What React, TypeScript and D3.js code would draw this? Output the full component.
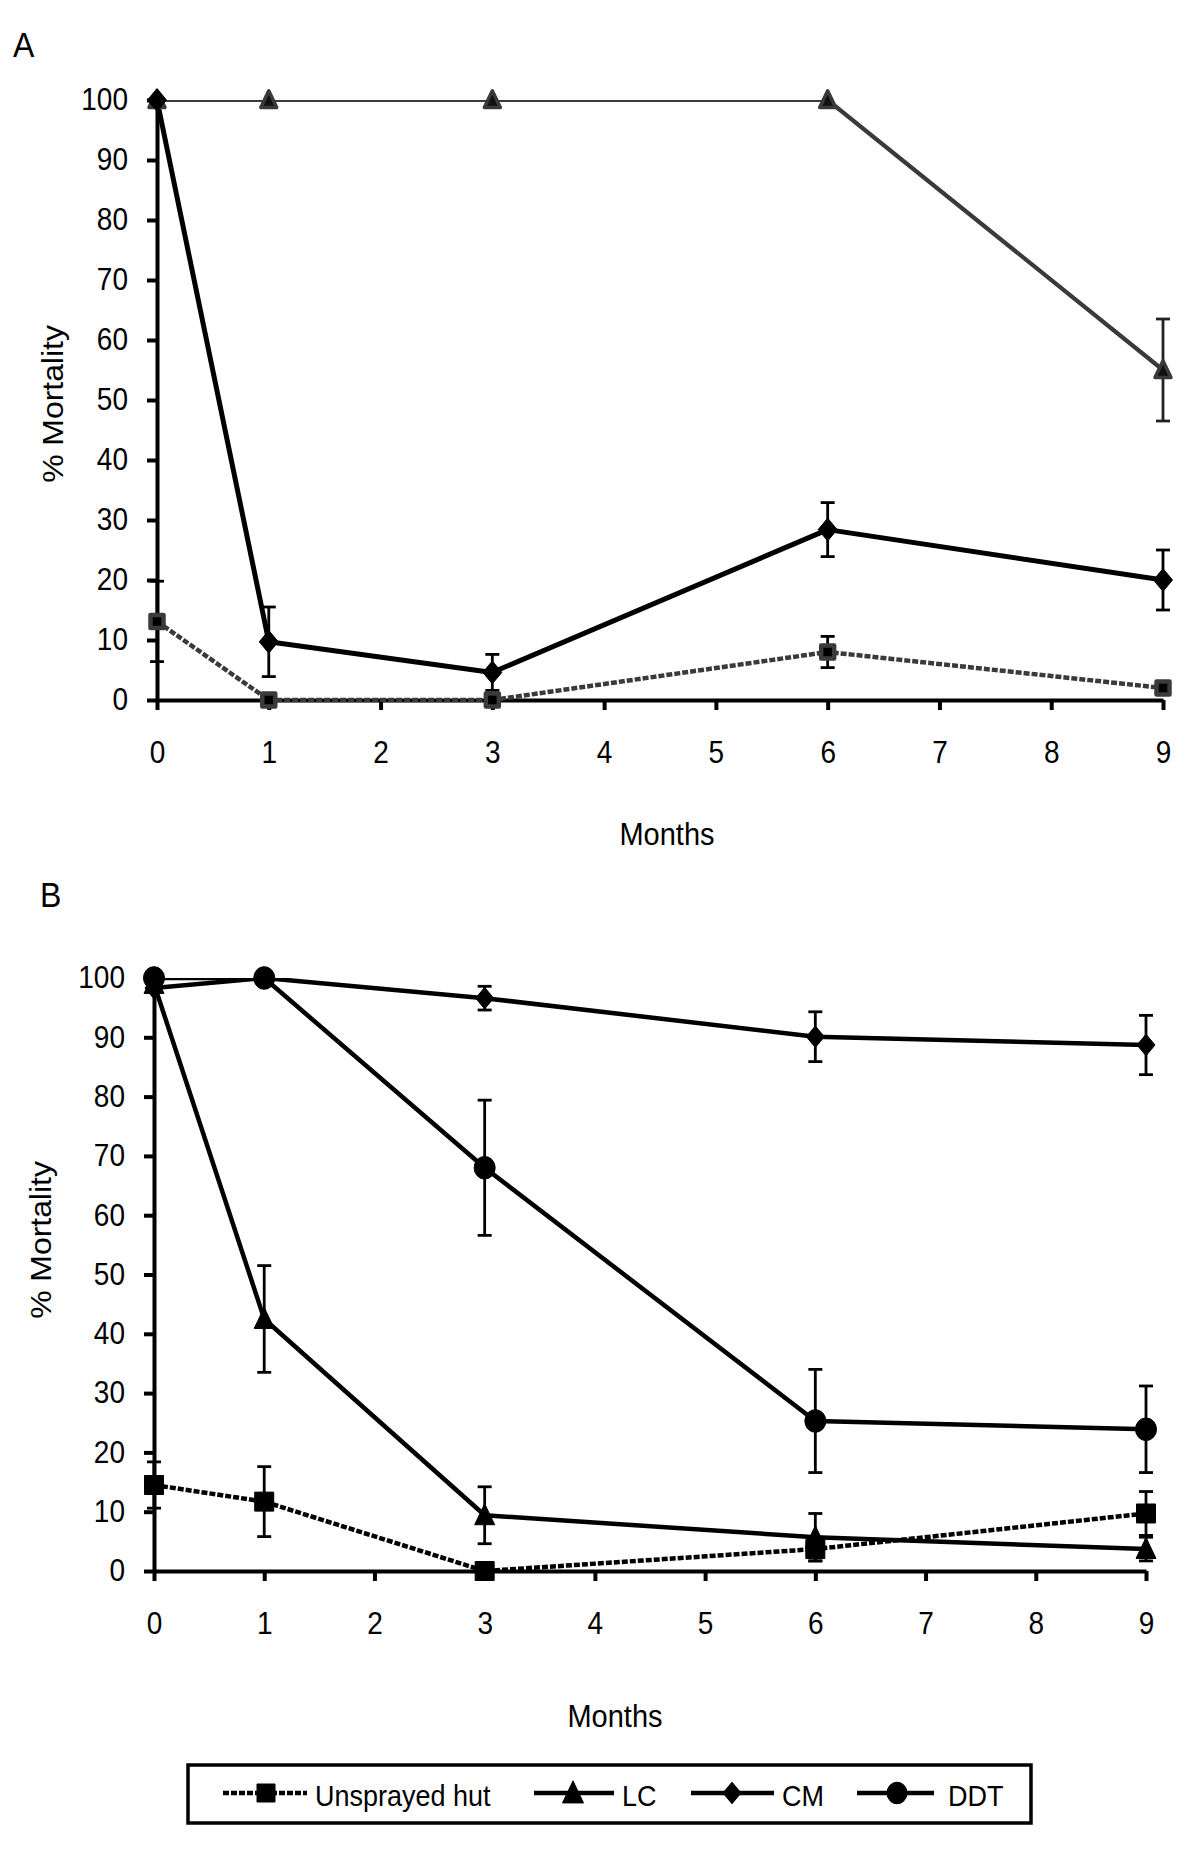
import * as d3 from "d3";
import { useEffect, useRef } from "react";

const months = [0, 1, 3, 6, 9];
const xTickValues = [0, 1, 2, 3, 4, 5, 6, 7, 8, 9];
const yTickValues = [0, 10, 20, 30, 40, 50, 60, 70, 80, 90, 100];
const seriesNames = ["Unsprayed hut", "LC", "CM", "DDT"];

// panel A
const aUnsprayed = [13.1, 0, 0, 8, 2];
const aUnsprayedErr = [6.7, 0, 0, 2.6, 0];
const aLC = [100, 100, 100, 100, 55];
const aLCErr = [0, 0, 0, 0, 8.5];
const aCM = [100, 9.7, 4.6, 28.4, 20];
const aCMErr = [0, 5.8, 3, 4.5, 5];

// panel B
const bUnsprayed = [14.5, 11.7, 0, 3.7, 9.7];
const bUnsprayedErr = [3.9, 5.9, 0, 2, 3.7];
const bLC = [99, 42.5, 9.4, 5.7, 3.7];
const bLCErr = [0, 9, 4.8, 4, 2];
const bCM = [98.3, 100, 96.6, 90.1, 88.7];
const bCMErr = [0, 0, 2, 4.2, 5];
const bDDT = [100, 100, 68, 25.3, 23.9];
const bDDTErr = [0, 0, 11.4, 8.7, 7.3];

const FONT = "'Liberation Sans', Arial, Helvetica, sans-serif";
const GRAY = "#3a3a3a";
const STRETCH = 1.1; // the figure's text is a bit taller than it is wide

function markerPath(shape, size) {
   if (shape === "square") {
      return `M${-size / 2},${-size / 2}h${size}v${size}h${-size}Z`;
   }
   if (shape === "diamond") {
      const w = size / 2;
      const h = size * 0.6;
      return `M0,${-h}L${w},0L0,${h}L${-w},0Z`;
   }
   if (shape === "triangle") {
      const w = size / 2;
      const h = size * 1.05;
      return `M0,${-h * 0.55}L${w},${h * 0.45}L${-w},${h * 0.45}Z`;
   }
   const r = size / 2;
   return `M${-r},0A${r},${r * 1.08} 0 1,0 ${r},0A${r},${r * 1.08} 0 1,0 ${-r},0Z`;
}

function drawMarker(g, x, y, s) {
   g.append("path")
      .attr("d", markerPath(s.shape, s.size))
      .attr("transform", `translate(${x},${y})`)
      .attr("fill", s.fill)
      .attr("stroke", s.markerStroke)
      .attr("stroke-width", s.markerStrokeWidth)
      .attr("stroke-linejoin", "round");
}

function addText(g, x, y, txt, size, anchor = "start") {
   g.append("text")
      .attr("transform", `translate(${x},${y}) scale(1,${STRETCH})`)
      .attr("text-anchor", anchor)
      .attr("font-size", size)
      .attr("font-family", FONT)
      .attr("fill", "#000")
      .text(txt);
}

function drawPanel(svg, cfg, id) {
   const xScale = d3.scaleLinear().domain([0, 9]).range([cfg.x0, cfg.x1]);
   const yScale = d3.scaleLinear().domain([0, 100]).range([cfg.yBottom, cfg.yTop]);

   addText(svg, cfg.letterX, cfg.letterY, cfg.letter, 32);

   // axes
   const yAxis = d3
      .axisLeft(yScale)
      .tickValues(yTickValues)
      .tickSize(10)
      .tickSizeOuter(0)
      .tickPadding(19);
   const xAxis = d3
      .axisBottom(xScale)
      .tickValues(xTickValues)
      .tickSize(10)
      .tickSizeOuter(0)
      .tickPadding(27);

   const yAxisG = svg.append("g").attr("transform", `translate(${cfg.x0},0)`).call(yAxis);
   const xAxisG = svg.append("g").attr("transform", `translate(0,${cfg.yBottom})`).call(xAxis);
   [yAxisG, xAxisG].forEach((ax) => {
      ax.attr("font-family", FONT).attr("font-size", 28);
      ax.selectAll(".domain").attr("stroke", "#000").attr("stroke-width", 4);
      ax.selectAll(".tick line").attr("stroke", "#000").attr("stroke-width", 4);
      ax.selectAll(".tick text").attr("fill", "#000").attr("transform", `scale(1,${STRETCH})`);
   });

   // axis titles
   addText(svg, cfg.monthsX, cfg.monthsY, "Months", 29, "middle");
   svg.append("text")
      .attr("transform", `translate(${cfg.yTitleX},${cfg.yTitleY}) rotate(-90) scale(${STRETCH},1)`)
      .attr("text-anchor", "middle")
      .attr("font-size", 29)
      .attr("font-family", FONT)
      .text("% Mortality");

   // clip lines to plot area
   svg.append("clipPath")
      .attr("id", id)
      .append("rect")
      .attr("x", cfg.x0)
      .attr("y", cfg.yTop)
      .attr("width", cfg.x1 - cfg.x0 + 10)
      .attr("height", cfg.yBottom - cfg.yTop + 10);

   const line = d3
      .line()
      .x((d) => xScale(d[0]))
      .y((d) => yScale(d[1]));

   const linesG = svg.append("g").attr("clip-path", `url(#${id})`);
   cfg.series.forEach((s) => {
      const pts = months.map((m, i) => [m, s.values[i]]);
      linesG
         .append("path")
         .attr("d", line(pts))
         .attr("fill", "none")
         .attr("stroke", s.color)
         .attr("stroke-width", s.width)
         .attr("stroke-dasharray", s.dash || null)
         .attr("stroke-linejoin", "round");
   });

   // error bars
   const errG = svg.append("g");
   cfg.series.forEach((s) => {
      months.forEach((m, i) => {
         const e = s.errors[i];
         if (!e) return;
         const x = xScale(m);
         const yt = yScale(s.values[i] + e);
         const yb = yScale(s.values[i] - e);
         errG.append("line")
            .attr("x1", x).attr("x2", x).attr("y1", yt).attr("y2", yb)
            .attr("stroke", s.errColor).attr("stroke-width", 2.8);
         [yt, yb].forEach((yy) => {
            errG.append("line")
               .attr("x1", x - 7).attr("x2", x + 7).attr("y1", yy).attr("y2", yy)
               .attr("stroke", s.errColor).attr("stroke-width", 2.8);
         });
      });
   });

   // markers
   const markG = svg.append("g");
   cfg.series.forEach((s) => {
      months.forEach((m, i) => {
         drawMarker(markG, xScale(m), yScale(s.values[i]), s);
      });
   });
}

function App() {
   const ref = useRef(null);

   useEffect(() => {
      const svg = d3.select(ref.current);
      svg.selectAll("*").remove();

      const panelA = {
         letter: "A",
         letterX: 13,
         letterY: 57,
         x0: 157,
         x1: 1163,
         yTop: 100,
         yBottom: 700,
         monthsX: 667,
         monthsY: 845,
         yTitleX: 63,
         yTitleY: 404,
         series: [
            { values: aUnsprayed, errors: aUnsprayedErr, color: GRAY, width: 4.5, dash: "6,2", errColor: "#000",
              shape: "square", size: 13, fill: "#000", markerStroke: GRAY, markerStrokeWidth: 4.5 },
            { values: aLC, errors: aLCErr, color: GRAY, width: 4.2, errColor: "#222",
              shape: "triangle", size: 16, fill: "#111", markerStroke: GRAY, markerStrokeWidth: 3.5 },
            { values: aCM, errors: aCMErr, color: "#000", width: 5, errColor: "#000",
              shape: "diamond", size: 19, fill: "#000", markerStroke: "#000", markerStrokeWidth: 1 },
         ],
      };

      const panelB = {
         letter: "B",
         letterX: 40,
         letterY: 907,
         x0: 154,
         x1: 1146,
         yTop: 978,
         yBottom: 1571,
         monthsX: 615,
         monthsY: 1727,
         yTitleX: 51,
         yTitleY: 1240,
         series: [
            { values: bUnsprayed, errors: bUnsprayedErr, color: "#000", width: 4.5, dash: "6,2", errColor: "#000",
              shape: "square", size: 19, fill: "#000", markerStroke: "#000", markerStrokeWidth: 1 },
            { values: bLC, errors: bLCErr, color: "#000", width: 4.5, errColor: "#000",
              shape: "triangle", size: 20, fill: "#000", markerStroke: "#000", markerStrokeWidth: 1 },
            { values: bCM, errors: bCMErr, color: "#000", width: 4.5, errColor: "#000",
              shape: "diamond", size: 18, fill: "#000", markerStroke: "#000", markerStrokeWidth: 1 },
            { values: bDDT, errors: bDDTErr, color: "#000", width: 4.5, errColor: "#000",
              shape: "circle", size: 21, fill: "#000", markerStroke: "#000", markerStrokeWidth: 1 },
         ],
      };

      drawPanel(svg, panelA, "clipA");
      drawPanel(svg, panelB, "clipB");

      // legend
      const legend = svg.append("g");
      legend.append("rect")
         .attr("x", 188)
         .attr("y", 1765)
         .attr("width", 843)
         .attr("height", 58)
         .attr("fill", "#fff")
         .attr("stroke", "#000")
         .attr("stroke-width", 3.5);

      const legendItems = [
         { x1: 223, x2: 307, mx: 266, dash: "6,2", shape: "square", size: 18 },
         { x1: 534, x2: 614, mx: 573, shape: "triangle", size: 21 },
         { x1: 691, x2: 774, mx: 732, shape: "diamond", size: 18 },
         { x1: 857, x2: 934, mx: 897, shape: "circle", size: 20 },
      ];
      const legendTextX = [315, 622, 782, 948];
      const ly = 1793;
      legendItems.forEach((it, i) => {
         legend.append("line")
            .attr("x1", it.x1).attr("x2", it.x2).attr("y1", ly).attr("y2", ly)
            .attr("stroke", "#000").attr("stroke-width", 4.5)
            .attr("stroke-dasharray", it.dash || null);
         drawMarker(legend, it.mx, ly, {
            shape: it.shape, size: it.size, fill: "#000", markerStroke: "#000", markerStrokeWidth: 1,
         });
         addText(legend, legendTextX[i], ly + 13, seriesNames[i], 27);
      });
   }, []);

   return (
      <div style={{ position: "absolute", left: 0, top: 0 }}>
         <svg ref={ref} width={1200} height={1866} style={{ display: "block", background: "#fff" }}></svg>
      </div>
   );
}

export default App;
